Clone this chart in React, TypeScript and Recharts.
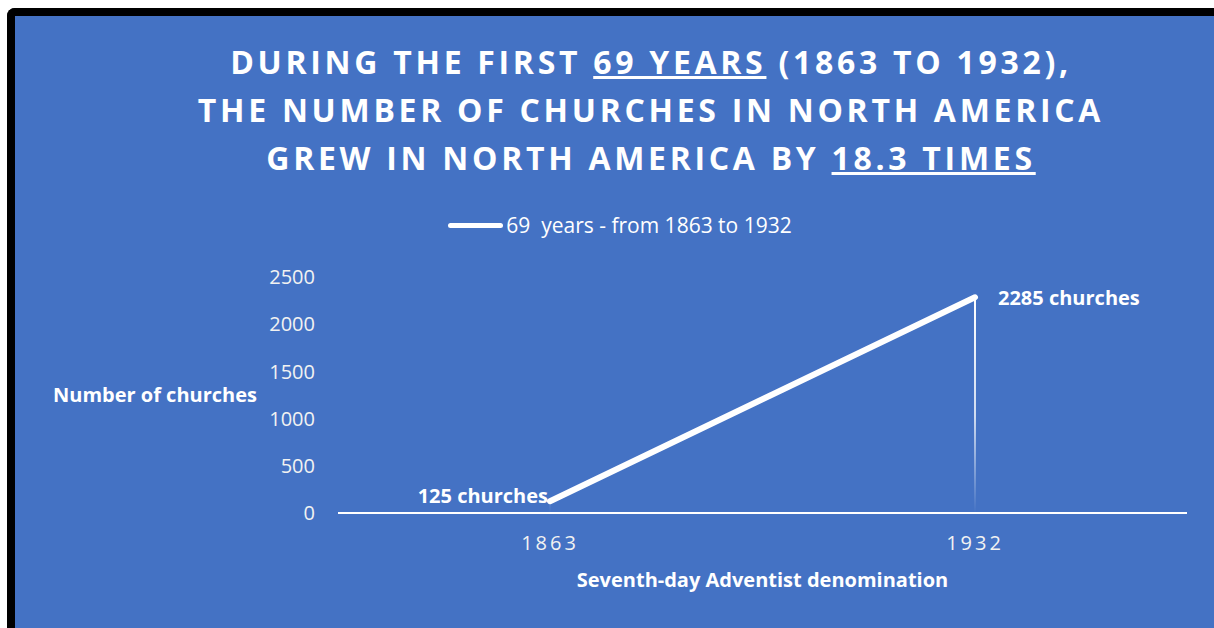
import React from 'react';
import { LineChart, Line, XAxis, YAxis, ReferenceLine, LabelList, Legend } from 'recharts';

const years = ['1863', '1932'];
const churches = [125, 2285];
const yTicks = [0, 500, 1000, 1500, 2000, 2500];
const seriesName = '69  years - from 1863 to 1932';

const data = years.map((year, i) => ({ year, churches: churches[i] }));

const BLUE = '#4472C4';
const FONT = '"Open Sans", sans-serif';

const renderPointLabel = (props: any) => {
  const { x, y, value, index } = props;
  const first = index === 0;
  return (
    <text
      x={first ? x - 2 : x + 23}
      y={first ? y - 4 : y + 2}
      textAnchor={first ? 'end' : 'start'}
      dominantBaseline="middle"
      fill="#fff"
      fontFamily={FONT}
      fontWeight={700}
      fontSize={20}
    >
      {value} churches
    </text>
  );
};

const renderLegend = () => (
  <div
    style={{
      display: 'flex',
      justifyContent: 'center',
      alignItems: 'center',
      height: 26,
      paddingLeft: 11,
      fontFamily: FONT,
      fontSize: 21,
      color: '#fff',
    }}
  >
    <span style={{ display: 'inline-block', width: 55, height: 5, borderRadius: 3, background: '#fff', marginRight: 3 }} />
    <span style={{ whiteSpace: 'pre' }}>{seriesName}</span>
  </div>
);

export default function App() {
  return (
    <div
      style={{
        position: 'fixed',
        left: 7,
        top: 8,
        width: 1207,
        height: 620,
        boxSizing: 'border-box',
        borderTop: '8px solid #000',
        borderLeft: '8px solid #000',
        borderTopLeftRadius: 8,
        background: BLUE,
        overflow: 'hidden',
      }}
    >
      <div
        style={{
          position: 'absolute',
          left: 136,
          top: 22,
          width: 1000,
          textAlign: 'center',
          fontFamily: FONT,
          fontWeight: 700,
          fontSize: 32,
          lineHeight: '48px',
          letterSpacing: 3.7,
          color: '#fff',
          zIndex: 2,
        }}
      >
        <div>
          DURING THE FIRST <u>69 YEARS</u> (1863 TO 1932),
        </div>
        <div>THE NUMBER OF CHURCHES IN NORTH AMERICA</div>
        <div>
          GREW IN NORTH AMERICA BY <u>18.3 TIMES</u>
        </div>
      </div>

      <LineChart width={1199} height={612} data={data} margin={{ top: 235, right: 27, bottom: 0, left: 0 }}>
        <defs>
          <linearGradient id="dropFade" gradientUnits="userSpaceOnUse" x1={0} y1={281} x2={0} y2={497}>
            <stop offset="0%" stopColor="#fff" stopOpacity={1} />
            <stop offset="55%" stopColor="#fff" stopOpacity={0.75} />
            <stop offset="100%" stopColor="#fff" stopOpacity={0} />
          </linearGradient>
        </defs>
        <Legend verticalAlign="top" content={renderLegend} wrapperStyle={{ top: 196, left: 0, width: 1199 }} />
        <XAxis
          dataKey="year"
          type="category"
          height={115}
          padding={{ left: 212, right: 212 }}
          axisLine={{ stroke: '#fff', strokeWidth: 2 }}
          tickLine={false}
          tickMargin={17}
          tick={{ fill: '#F2F2F2', fontFamily: FONT, fontSize: 20, letterSpacing: 3 }}
          label={{
            value: 'Seventh-day Adventist denomination',
            position: 'insideBottom',
            offset: 41,
            fill: '#fff',
            fontFamily: FONT,
            fontWeight: 700,
            fontSize: 20,
          }}
        />
        <YAxis
          width={323}
          domain={[0, 2500]}
          ticks={yTicks}
          axisLine={false}
          tickLine={false}
          tickMargin={17}
          tick={{ fill: '#F2F2F2', fontFamily: FONT, fontSize: 20 }}
          label={{
            value: 'Number of churches',
            position: 'insideLeft',
            offset: 38,
            fill: '#fff',
            fontFamily: FONT,
            fontWeight: 700,
            fontSize: 20,
          }}
        />
        {data.map((d) => (
          <ReferenceLine
            key={d.year}
            segment={[
              { x: d.year, y: 0 },
              { x: d.year, y: d.churches },
            ]}
            stroke="url(#dropFade)"
            strokeWidth={2}
          />
        ))}
        <Line
          type="linear"
          dataKey="churches"
          name={seriesName}
          stroke="#fff"
          strokeWidth={6}
          strokeLinecap="round"
          dot={false}
          activeDot={false}
          isAnimationActive={false}
        >
          <LabelList dataKey="churches" content={renderPointLabel} />
        </Line>
      </LineChart>
    </div>
  );
}
